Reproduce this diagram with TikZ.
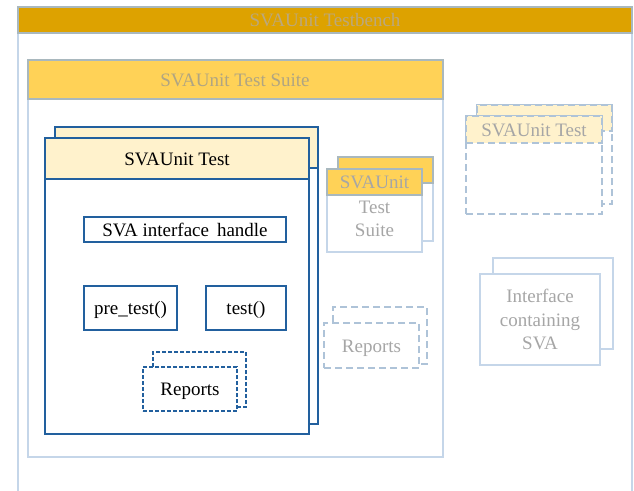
\documentclass[tikz,border=0pt]{standalone}
\usepackage{fontspec}
\setmainfont{Liberation Serif}

\definecolor{benchgold}{HTML}{DDA200}
\definecolor{suitegold}{HTML}{FFD257}
\definecolor{testcream}{HTML}{FFF2CC}
\definecolor{darkblue}{HTML}{22609E}
\definecolor{paleblue}{HTML}{C5D6E9}
\definecolor{dashblue}{HTML}{AEC3D8}
\definecolor{bandedge}{HTML}{A9B8BE}
\definecolor{fadetext}{HTML}{A6A6A6}
\definecolor{titletext}{HTML}{BBA87C}
\definecolor{suitetext}{HTML}{B0A582}

\tikzset{
  box/.style 2 args={anchor=north west, inner sep=0pt, outer sep=0pt,
    minimum width=#1pt, minimum height=#2pt, line width=1.4pt},
  solidblue/.style={draw=darkblue, fill=white},
  dashdark/.style={draw=darkblue, fill=white, dash pattern=on 4pt off 2pt},
  palebox/.style={draw=paleblue, fill=white},
  dashpale/.style={draw=dashblue, fill=white, dash pattern=on 7pt off 4pt},
  label/.style={font=\fontsize{19}{23}\selectfont, inner sep=0pt, align=center},
  oneline/.style={text height=13pt, text depth=0pt},
  faded/.style={label, text=fadetext},
}

\begin{document}
\begin{tikzpicture}[x=1pt, y=-1pt]
  \clip (0,0) rectangle (634,490);

  % testbench frame and header
  \node[box={614}{500}, draw=paleblue] (bench) at (18,7) {};
  \node[box={614}{26}, fill=benchgold, draw=bandedge] (benchband) at (18,7) {};
  \node[label, oneline, text=titletext] (benchtitle) at (325,20) {SVAUnit Testbench};

  % test suite frame and header
  \node[box={415}{397}, draw=paleblue] (suite) at (28,60) {};
  \node[box={415}{39}, fill=suitegold, draw=bandedge] (suiteband) at (28,60) {};
  \node[label, oneline, text=suitetext] (suitetitle) at (235,80) {SVAUnit Test Suite};

  % stacked unit tests
  \node[box={263}{297}, solidblue] (testback) at (55,127) {};
  \node[box={263}{41}, fill=testcream, draw=darkblue] (testbackband) at (55,127) {};
  \node[box={264}{296}, solidblue] (test) at (45,138) {};
  \node[box={264}{41}, fill=testcream, draw=darkblue, label, oneline] (testband) at (45,138) {SVAUnit Test};

  \node[box={202}{25}, solidblue, label, oneline] (handle) at (84,217) {SVA interface\ \,handle};
  \node[box={93}{44}, solidblue, label, oneline] (pretest) at (84,286) {pre\_test()};
  \node[box={80}{44}, solidblue, label, oneline] (runtest) at (206,286) {test()};

  \node[box={93}{55}, dashdark] (repback) at (153,352) {};
  \node[box={94}{44}, dashdark, label, oneline] (rep) at (143,367) {Reports};

  % stacked test suites (small)
  \node[box={95}{84}, palebox] (minisuiteback) at (338,157) {};
  \node[box={95}{26}, fill=suitegold, draw=bandedge] (minisuitebackband) at (338,157) {};
  \node[box={95}{83}, palebox] (minisuite) at (327,169) {};
  \node[box={95}{26}, fill=suitegold, draw=bandedge, faded, oneline] (minisuiteband) at (327,169) {SVAUnit};
  \node[faded, font=\fontsize{19}{22.5}\selectfont] (minisuitetext) at (374.5,219) {Test\\Suite};

  % stacked reports (small)
  \node[box={94}{57}, dashpale] (minirepback) at (333,307) {};
  \node[box={95}{45}, dashpale, faded, oneline] (minirep) at (324,323) {Reports};

  % stacked unit tests (small)
  \node[box={135}{99}, dashpale] (minitestback) at (477,105) {};
  \node[box={135}{26}, dashpale, fill=testcream] (minitestbackband) at (477,105) {};
  \node[box={136}{98}, dashpale] (minitest) at (466,116) {};
  \node[box={136}{27}, dashpale, fill=testcream, faded, oneline] (minitestband) at (466,116) {SVAUnit Test};

  % stacked interfaces
  \node[box={120}{91}, palebox] (ifback) at (493,258) {};
  \node[box={120}{91}, palebox, faded, font=\fontsize{19}{23.5}\selectfont] (iface) at (480,274) {Interface\\containing\\SVA};
\end{tikzpicture}
\end{document}
